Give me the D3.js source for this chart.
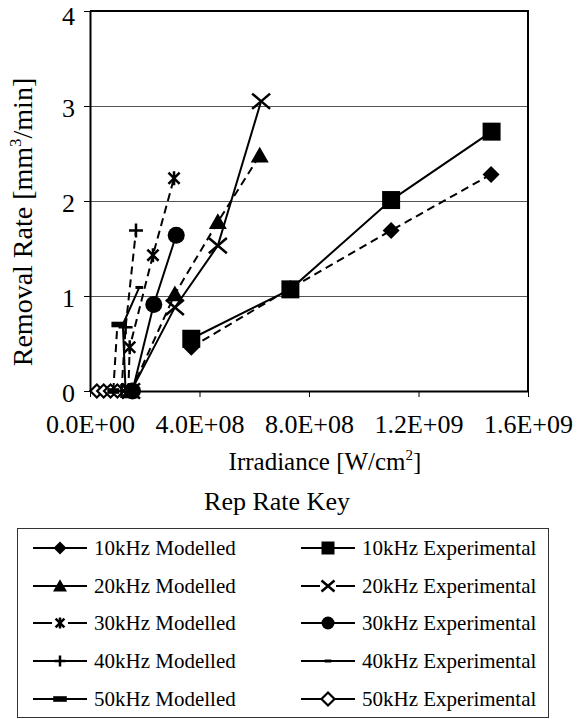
<!DOCTYPE html>
<html>
<head>
<meta charset="utf-8">
<script src="https://cdn.jsdelivr.net/npm/d3@7"></script>
<style>
  body { margin: 0; background: #fff; }
  text { font-family: "Liberation Serif", "Times New Roman", serif; fill: #000; }
</style>
</head>
<body>
<div id="chart"></div>
<script>
// x ticks and y ticks
const xTicks = [0, 4e8, 8e8, 1.2e9, 1.6e9];
const yTicks = [0, 1, 2, 3, 4];

// series values (irradiance W/cm2, removal rate mm3/min)
const x10Mod = [3.7e8, 7.32e8, 1.10e9, 1.465e9];
const y10Mod = [0.46, 1.08, 1.69, 2.28];
const x10Exp = [3.7e8, 7.32e8, 1.10e9, 1.467e9];
const y10Exp = [0.55, 1.07, 2.01, 2.73];
const x20Mod = [1.5e8, 3.1e8, 4.67e8, 6.2e8];
const y20Mod = [0, 1.02, 1.78, 2.48];
const x20Exp = [1.5e8, 3.1e8, 4.67e8, 6.25e8];
const y20Exp = [0, 0.88, 1.53, 3.05];
const x30Mod = [1.4e8, 1.45e8, 2.3e8, 3.07e8];
const y30Mod = [0, 0.46, 1.43, 2.24];
const x30Exp = [1.55e8, 2.33e8, 3.15e8];
const y30Exp = [0, 0.91, 1.64];
const x40Mod = [1.15e8, 1.3e8, 1.68e8];
const y40Mod = [0, 0.67, 1.69];
const x40Exp = [1.3e8, 1.2e8, 1.8e8];
const y40Exp = [0, 0.70, 1.09];
const x50Mod = [0.85e8, 1.0e8];
const y50Mod = [0, 0.70];
const x50Exp = [0.25e8, 0.5e8, 0.75e8, 1.0e8];
const y50Exp = [0, 0, 0, 0];

const names = ["10kHz Modelled", "10kHz Experimental", "20kHz Modelled", "20kHz Experimental",
  "30kHz Modelled", "30kHz Experimental", "40kHz Modelled", "40kHz Experimental",
  "50kHz Modelled", "50kHz Experimental"];

let series = [
  {name: names[0], xs: x10Mod, ys: y10Mod, mark: "diamond", dashed: true},
  {name: names[1], xs: x10Exp, ys: y10Exp, mark: "square", dashed: false},
  {name: names[2], xs: x20Mod, ys: y20Mod, mark: "triangle", dashed: true},
  {name: names[3], xs: x20Exp, ys: y20Exp, mark: "x", dashed: false},
  {name: names[4], xs: x30Mod, ys: y30Mod, mark: "star", dashed: true},
  {name: names[5], xs: x30Exp, ys: y30Exp, mark: "circle", dashed: false},
  {name: names[6], xs: x40Mod, ys: y40Mod, mark: "plus", dashed: true},
  {name: names[7], xs: x40Exp, ys: y40Exp, mark: "thindash", dashed: false},
  {name: names[8], xs: x50Mod, ys: y50Mod, mark: "thickdash", dashed: true},
  {name: names[9], xs: x50Exp, ys: y50Exp, mark: "hdiamond", dashed: false}
];

const width = 579, height = 719;
const plot = {left: 90, right: 528, top: 11, bottom: 391};

let svg = d3.select('#chart').append('svg')
  .attr('width', width)
  .attr('height', height);

let x = d3.scaleLinear().domain([0, 1.6e9]).range([plot.left, plot.right]);
let y = d3.scaleLinear().domain([0, 4]).range([plot.bottom, plot.top]);

function fmtE(v) {
  if (v === 0) return "0.0E+00";
  let e = Math.floor(Math.log10(v));
  let m = v / Math.pow(10, e);
  return m.toFixed(1) + "E+" + String(e).padStart(2, "0");
}

// gridlines
svg.append('g')
  .selectAll('line')
  .data(yTicks.filter(d => d > 0 && d < 4))
  .enter().append('line')
  .attr('x1', plot.left).attr('x2', plot.right)
  .attr('y1', d => Math.round(y(d)) + 0.5).attr('y2', d => Math.round(y(d)) + 0.5)
  .attr('stroke', '#555')
  .attr('stroke-width', 1);

// top and right border
svg.append('path')
  .attr('d', `M${plot.left},${plot.top} H${plot.right} V${plot.bottom}`)
  .attr('fill', 'none')
  .attr('stroke', '#000')
  .attr('stroke-width', 2);

// axes
let xAxis = svg.append('g')
  .attr('transform', `translate(0,${plot.bottom})`)
  .call(d3.axisBottom(x).tickValues(xTicks).tickFormat(fmtE).tickSize(6).tickSizeOuter(0));
let yAxis = svg.append('g')
  .attr('transform', `translate(${plot.left},0)`)
  .call(d3.axisLeft(y).tickValues(yTicks).tickFormat(d3.format('d')).tickSize(6).tickSizeOuter(0));

[xAxis, yAxis].forEach(a => {
  a.select('.domain').attr('stroke', '#000').attr('stroke-width', 2);
  a.selectAll('.tick line').attr('stroke', '#000').attr('stroke-width', 1);
  a.selectAll('.tick text')
    .style('font-family', '"Liberation Serif", serif')
    .style('font-size', '26px')
    .attr('fill', '#000');
});
xAxis.selectAll('.tick text').attr('y', 24).attr('dy', '0.71em');
// the top label sits a little lower, as in the original
yAxis.selectAll('.tick text').attr('x', -15).attr('y', d => d === 4 ? 4 : 1).attr('dy', '0.35em');

// axis titles
let xTitle = svg.append('text')
  .attr('x', 325).attr('y', 470)
  .attr('text-anchor', 'middle')
  .style('font-size', '25px');
xTitle.append('tspan').text('Irradiance [W/cm');
xTitle.append('tspan').attr('dy', -10).style('font-size', '15px').text('2');
xTitle.append('tspan').attr('dy', 10).text(']');

let yTitle = svg.append('text')
  .attr('transform', `translate(32,222) rotate(-90)`)
  .attr('text-anchor', 'middle')
  .style('font-size', '28px');
yTitle.append('tspan').text('Removal Rate [mm');
yTitle.append('tspan').attr('dy', -11).style('font-size', '17px').text('3');
yTitle.append('tspan').attr('dy', 11).text('/min]');

// marker shapes
function markPath(type, s) {
  let h = s / 2;
  switch (type) {
    case "diamond":
    case "hdiamond":
      return `M0,${-h}L${h},0L0,${h}L${-h},0Z`;
    case "square":
      return `M${-h},${-h}H${h}V${h}H${-h}Z`;
    case "triangle":
      return `M0,${-h * 0.95}L${h},${h * 0.8}L${-h},${h * 0.8}Z`;
    case "circle":
      return d3.symbol(d3.symbolCircle, Math.PI * h * h)();
    case "x":
      return `M${-h},${-h * 0.85}L${h},${h * 0.85}M${-h},${h * 0.85}L${h},${-h * 0.85}`;
    case "star":
      return `M${-h * 0.8},${-h * 0.8}L${h * 0.8},${h * 0.8}M${-h * 0.8},${h * 0.8}L${h * 0.8},${-h * 0.8}M0,${-h}V${h}`;
    case "plus":
      return `M${-h},0H${h}M0,${-h}V${h}`;
    case "thindash":
      return `M${-h * 0.55},-1.5H${h * 0.55}V1.5H${-h * 0.55}Z`;
    case "thickdash":
      return `M${-h * 0.85},-2.8H${h * 0.85}V2.8H${-h * 0.85}Z`;
  }
}

function styleMark(sel, type) {
  if (type === "x" || type === "star" || type === "plus") {
    sel.attr('fill', 'none').attr('stroke', '#000').attr('stroke-width', 2.5);
  } else if (type === "hdiamond") {
    sel.attr('fill', '#fff').attr('stroke', '#000').attr('stroke-width', 2.2);
  } else {
    sel.attr('fill', '#000').attr('stroke', 'none');
  }
}

const markSize = {diamond: 17, hdiamond: 13, square: 18, triangle: 18, circle: 17,
  x: 18, star: 14, plus: 14, thindash: 14, thickdash: 14};

// draw order so the solid experimental circles sit on top at the base
const drawOrder = [9, 8, 7, 6, 0, 1, 2, 3, 4, 5];
let line = d3.line().x(d => x(d[0])).y(d => y(d[1]));

drawOrder.forEach(i => {
  let s = series[i];
  let pts = s.xs.map((v, j) => [v, s.ys[j]]);
  let g = svg.append('g').attr('class', 'series');
  g.append('path')
    .attr('d', line(pts))
    .attr('fill', 'none')
    .attr('stroke', '#000')
    .attr('stroke-width', 2)
    .attr('stroke-dasharray', s.dashed ? '8,5' : null);
  g.selectAll('path.mark')
    .data(pts)
    .enter().append('path')
    .attr('class', 'mark')
    .attr('transform', d => `translate(${x(d[0])},${y(d[1])})`)
    .attr('d', markPath(s.mark, markSize[s.mark]))
    .call(styleMark, s.mark);
});

// legend
svg.append('text')
  .attr('x', 277).attr('y', 510)
  .attr('text-anchor', 'middle')
  .style('font-size', '26px')
  .text('Rep Rate Key');

svg.append('rect')
  .attr('x', 17.5).attr('y', 528.5)
  .attr('width', 531).attr('height', 189)
  .attr('fill', 'none')
  .attr('stroke', '#333')
  .attr('stroke-width', 1);

const rowY = [548, 586, 623, 661, 699];
const colX = [33, 301];
const legSize = {diamond: 13, hdiamond: 13, square: 13, triangle: 14, circle: 13,
  x: 13, star: 11, plus: 11, thindash: 12, thickdash: 16};

series.forEach((s, i) => {
  let cx = colX[i % 2], cy = rowY[Math.floor(i / 2)];
  let g = svg.append('g').attr('transform', `translate(${cx},${cy})`);
  let gap = (s.mark === "x" || s.mark === "star") ? 8 : 0;
  if (gap) {
    g.append('line').attr('x1', 0).attr('x2', 27 - gap).attr('y1', 0).attr('y2', 0)
      .attr('stroke', '#000').attr('stroke-width', 2);
    g.append('line').attr('x1', 27 + gap).attr('x2', 54).attr('y1', 0).attr('y2', 0)
      .attr('stroke', '#000').attr('stroke-width', 2);
  } else {
    g.append('line').attr('x1', 0).attr('x2', 54).attr('y1', 0).attr('y2', 0)
      .attr('stroke', '#000').attr('stroke-width', 2);
  }
  g.append('path')
    .attr('transform', 'translate(27,0)')
    .attr('d', markPath(s.mark, legSize[s.mark]))
    .call(styleMark, s.mark);
  g.append('text')
    .attr('x', 61).attr('y', 0).attr('dy', '0.33em')
    .style('font-size', '21px')
    .text(s.name);
});
</script>
</body>
</html>
